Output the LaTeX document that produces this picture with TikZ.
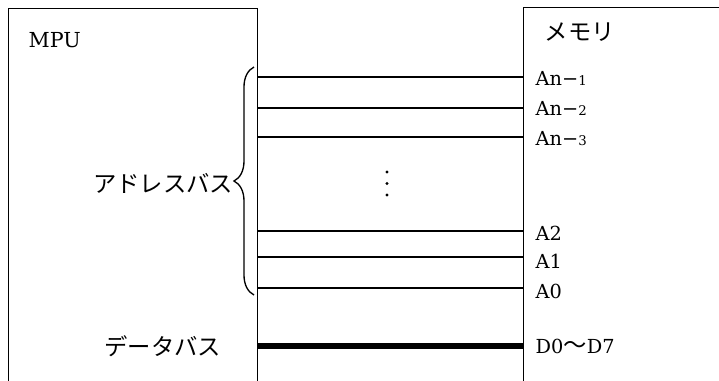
\documentclass[tikz,border=0pt]{standalone}
\usepackage{fontspec}
\setmainfont{DejaVu Serif}
\newfontfamily\jp{Noto Sans CJK JP}
\usetikzlibrary{decorations.pathreplacing}

\tikzset{every picture/.style={line width=1.1pt}}
\tikzset{
  blk/.style={draw, anchor=north west, inner sep=0pt, minimum height=300pt},
  pin/.style={anchor=base west, inner sep=0.75pt, font=\fontsize{14.5}{17}\selectfont},
  jlbl/.style={inner sep=0.75pt, font=\fontsize{17.5}{20}\jp},
  bus/.style={line width=4.5pt},
}
\newcommand{\lo}[1]{{\fontsize{10}{11}\selectfont #1}}
\newcommand{\wave}{{\fontsize{17.5}{20}\jp 〜}}

\begin{document}
\begin{tikzpicture}[x=0.75pt,y=0.75pt,yscale=-1,xscale=1]
\useasboundingbox (0,0) rectangle (719,380);
\clip (0,0) rectangle (719,380);

% Blocks
\node (mpu) [blk, minimum width=186.75pt] at (8,8) {};
\node (mem) [blk, minimum width=225pt] at (523,7) {};

% Line levels
\coordinate (ln1) at (390,77);
\coordinate (ln2) at (390,108);
\coordinate (ln3) at (390,137);
\coordinate (ln4) at (390,231);
\coordinate (ln5) at (390,257);
\coordinate (ln6) at (390,288);
\coordinate (ln7) at (390,346);

%Straight Lines
\draw (mpu.east |- ln1) -- (mem.west |- ln1);
%Straight Lines
\draw (mpu.east |- ln2) -- (mem.west |- ln2);
%Straight Lines
\draw (mpu.east |- ln3) -- (mem.west |- ln3);
%Straight Lines
\draw (mpu.east |- ln4) -- (mem.west |- ln4);
%Straight Lines
\draw (mpu.east |- ln5) -- (mem.west |- ln5);
%Straight Lines
\draw (mpu.east |- ln6) -- (mem.west |- ln6);
%Straight Lines
\draw [bus] (mpu.east |- ln7) -- (mem.west |- ln7);

%Brace
\coordinate (bb) at (254,295);
\coordinate (bt) at (254,67);
\draw [decorate, decoration={brace, amplitude=15pt}, line width=1pt] (bb) -- (bt);

%Dots
\fill (387,172) circle (1.3pt);
\fill (387,183.5) circle (1.3pt);
\fill (387,195) circle (1.3pt);

% Text Node
\draw (27,47) node (mpulbl) [anchor=base west][inner sep=0.75pt, font=\fontsize{15.5}{18}\selectfont] {MPU};
% Text Node
\draw (543,32) node (memlbl) [jlbl, anchor=west] {メモリ};
% Text Node
\draw (534,85) node (an1) [pin] {An−\lo{1}};
% Text Node
\draw (534,115) node (an2) [pin] {An−\lo{2}};
% Text Node
\draw (534,145) node (an3) [pin] {An−\lo{3}};
% Text Node
\draw (534,240) node (a2) [pin] {A2};
% Text Node
\draw (534,268) node (a1) [pin] {A1};
% Text Node
\draw (534,298) node (a0) [pin] {A0};
% Text Node
\draw (534,353) node (d07) [pin] {D0\wave D7};
% Text Node
\draw (235,183) node (abus) [jlbl, anchor=east] {アドレスバス};
% Text Node
\draw (223,346) node (dbus) [jlbl, anchor=east] {データバス};

\end{tikzpicture}
\end{document}
